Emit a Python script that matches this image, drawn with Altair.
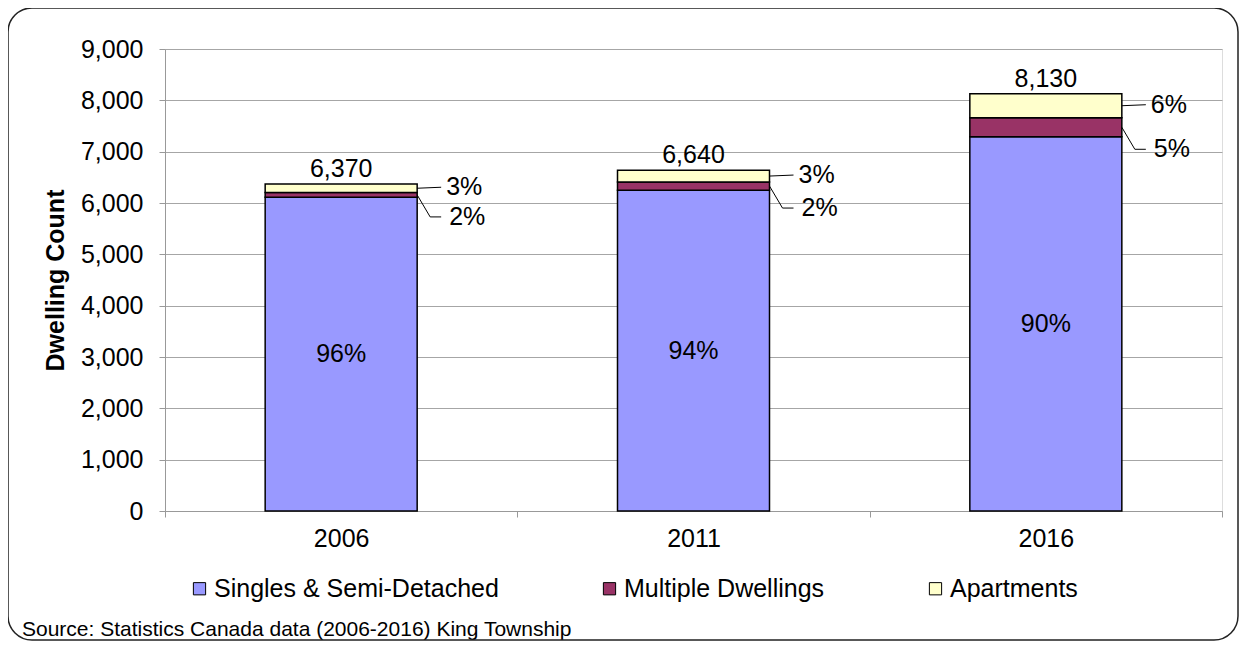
import altair as alt
import pandas as pd

years = ["2006", "2011", "2016"]
series = ["Singles & Semi-Detached", "Multiple Dwellings", "Apartments"]
singles = [6110, 6250, 7290]
multiple = [95, 160, 370]
apartments = [165, 230, 470]
totals = [6370, 6640, 8130]
total_labels = ["6,370", "6,640", "8,130"]
pct_singles = ["96%", "94%", "90%"]
pct_multiple = ["2%", "2%", "5%"]
pct_apartments = ["3%", "3%", "6%"]
colors = ["#9999FF", "#993366", "#FFFFCC"]
y_ticks = [0, 1000, 2000, 3000, 4000, 5000, 6000, 7000, 8000, 9000]
source_text = "Source: Statistics Canada data (2006-2016) King Township"

FONT = "Liberation Sans"
FS = 25

rows = []
for i, yr in enumerate(years):
    lo = 0
    for j, (s, vals, pcts) in enumerate(zip(series, [singles, multiple, apartments],
                                            [pct_singles, pct_multiple, pct_apartments])):
        v = vals[i]
        rows.append(dict(year=yr, series=s, order=j, lo=lo, hi=lo + v, mid=lo + v / 2, pct=pcts[i]))
        lo += v
df = pd.DataFrame(rows)
tot_df = pd.DataFrame(dict(year=years, total=totals, label=total_labels))

x_enc = alt.X("year:N", bandPosition=0.5,
              scale=alt.Scale(domain=years, paddingInner=0, paddingOuter=0),
              axis=alt.Axis(labelAngle=0, title=None, tickBand="extent", tickSize=6,
                            labelPadding=9, domainColor="#999999", tickColor="#999999",
                            grid=False, labelFontSize=FS, labelFont=FONT, labelColor="black"))
x2_enc = alt.X2("year:N", bandPosition=0.5)
y_scale = alt.Scale(domain=[0, 9000], nice=False)

bars = alt.Chart(df).mark_bar(size=152, stroke="black", strokeWidth=1.5).encode(
    x=x_enc,
    y=alt.Y("lo:Q", scale=y_scale,
            axis=alt.Axis(values=y_ticks, format=",.0f", labelFontSize=FS, labelFont=FONT,
                          labelColor="black", tickSize=6, labelPadding=16,
                          domainColor="#999999", tickColor="#999999",
                          gridColor="#a6a6a6", gridWidth=1,
                          title="Dwelling Count", titleFontSize=FS, titleFont=FONT,
                          titleFontWeight="bold", titleColor="black", titlePadding=12)),
    y2="hi:Q",
    color=alt.Color("series:N", scale=alt.Scale(domain=series, range=colors),
                    legend=alt.Legend(orient="none", legendX=22, legendY=527,
                                      direction="horizontal", title=None,
                                      symbolType="square", symbolSize=150,
                                      symbolStrokeColor="black", symbolStrokeWidth=1,
                                      labelFontSize=FS, labelFont=FONT, labelColor="black",
                                      labelOffset=2, columnPadding=98, padding=0,
                                      labelLimit=400)),
    order="order:Q",
)

inner = alt.Chart(df).transform_filter("datum.order == 0").mark_text(
    fontSize=FS, font=FONT, color="black", baseline="middle").encode(
    x=x_enc, y=alt.Y("mid:Q", scale=y_scale), text="pct:N")

total_txt = alt.Chart(tot_df).mark_text(
    fontSize=FS, font=FONT, color="black", baseline="alphabetic", dy=-7).encode(
    x=x_enc, y=alt.Y("total:Q", scale=y_scale), text="label:N")

multi_df = df[df.order == 1]
apt_df = df[df.order == 2]

multi_diag = alt.Chart(multi_df).mark_rule(color="black", strokeWidth=1,
                                           xOffset=76, x2Offset=89, y2Offset=22).encode(
    x=x_enc, x2=x2_enc, y=alt.Y("mid:Q", scale=y_scale), y2="mid:Q")
multi_hor = alt.Chart(multi_df).mark_rule(color="black", strokeWidth=1,
                                          xOffset=89, x2Offset=100, yOffset=22, y2Offset=22).encode(
    x=x_enc, x2=x2_enc, y=alt.Y("mid:Q", scale=y_scale), y2="mid:Q")
multi_txt = alt.Chart(multi_df).mark_text(fontSize=FS, font=FONT, color="black", align="left",
                                          baseline="middle", xOffset=108, yOffset=22).encode(
    x=x_enc, y=alt.Y("mid:Q", scale=y_scale), text="pct:N")

apt_line = alt.Chart(apt_df).mark_rule(color="black", strokeWidth=1,
                                       xOffset=76, x2Offset=100, y2Offset=-1).encode(
    x=x_enc, x2=x2_enc, y=alt.Y("mid:Q", scale=y_scale), y2="mid:Q")
apt_txt = alt.Chart(apt_df).mark_text(fontSize=FS, font=FONT, color="black", align="left",
                                      baseline="middle", xOffset=105, yOffset=-1).encode(
    x=x_enc, y=alt.Y("mid:Q", scale=y_scale), text="pct:N")

one = alt.Data(values=[{"k": 1}])
source = alt.Chart(one).mark_text(fontSize=21, font=FONT, color="black", align="left",
                                  baseline="alphabetic").encode(
    x=alt.value(-143), y=alt.value(587), text=alt.value(source_text))
frame = alt.Chart(one).mark_rect(filled=False, stroke="#222222", strokeWidth=1.5,
                                 cornerRadius=24).encode(
    x=alt.value(-157), x2=alt.value(1073), y=alt.value(-41), y2=alt.value(591))

chart = alt.layer(bars, inner, total_txt, multi_diag, multi_hor, multi_txt,
                  apt_line, apt_txt, source, frame).properties(
    width=1057, height=462,
    padding={"left": 157, "top": 41, "right": 18, "bottom": 131},
    autosize=alt.AutoSizeParams(type="none"),
).configure_view(strokeWidth=0).configure(font=FONT)

chart.save("out.html", embed_options={"renderer": "svg", "actions": False})
